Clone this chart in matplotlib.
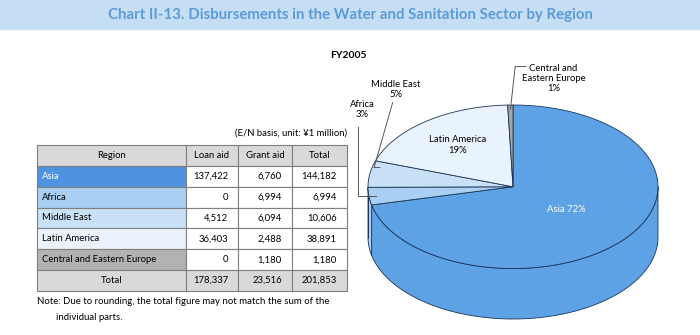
import numpy as np
import matplotlib
matplotlib.use("Agg")
import matplotlib.pyplot as plt
from matplotlib.patches import Rectangle, Polygon

plt.rcParams['font.family'] = ['Lato', 'DejaVu Sans']

# data
regions = ["Asia", "Africa", "Middle East", "Latin America", "Central and Eastern Europe"]
loan_aid = [137422, 0, 4512, 36403, 0]
grant_aid = [6760, 6994, 6094, 2488, 1180]
total_aid = [144182, 6994, 10606, 38891, 1180]
grand_total = [178337, 23516, 201853]
col_labels = ["Region", "Loan aid", "Grant aid", "Total"]
pie_labels = ["Asia 72%", "Africa\n3%", "Middle East\n5%", "Latin America\n19%",
              "Central and\nEastern Europe\n1%"]

title = "Chart II-13. Disbursements in the Water and Sanitation Sector by Region"

# colours
pie_colors = ["#5ea2e6", "#a9cff3", "#c8e1f7", "#e9f3fd", "#a6a6a6"]
cell_colors = ["#4d93e0", "#a9cff3", "#c8e1f7", "#eaf3fd", "#b2b2b2"]
head_color = "#d9d9d9"
edge_dark = "#1c3557"

W, H = 700, 335
fig = plt.figure(figsize=(W / 100, H / 100), dpi=100)

# overlay axes in pixel units for text/background
ax = fig.add_axes([0, 0, 1, 1])
ax.set_xlim(0, W)
ax.set_ylim(H, 0)
ax.axis('off')

ax.add_patch(Rectangle((0, 0), W, 29, color="#c6def4", zorder=0))
ax.text(350, 15, title, ha='center', va='center', fontsize=10.8,
        fontweight='bold', color="#5b9bd8")
ax.text(348, 56, "FY2005", ha='center', va='center', fontsize=7.5, fontweight='bold')
ax.text(347, 133, "(E/N basis, unit: ¥1 million)", ha='right', va='center', fontsize=6.8)
ax.text(37, 302, "Note: Due to rounding, the total figure may not match the sum of the",
        ha='left', va='center', fontsize=6.9)
ax.text(56, 318, "individual parts.", ha='left', va='center', fontsize=6.9)

# table
tax = fig.add_axes([37 / W, 1 - 291 / H, 310 / W, 146 / H])
tax.axis('off')
rows = [col_labels]
for r, l, g, t in zip(regions, loan_aid, grant_aid, total_aid):
    rows.append([r, f"{l:,}", f"{g:,}", f"{t:,}"])
rows.append(["Total"] + [f"{v:,}" for v in grand_total])
colours = [[head_color] * 4]
for c in cell_colors:
    colours.append([c, "white", "white", "white"])
colours.append([head_color] * 4)
widths = np.array([149, 52, 54, 55], dtype=float)
tbl = tax.table(cellText=rows, cellColours=colours, colWidths=list(widths / widths.sum()),
                cellLoc='right', bbox=[0, 0, 1, 1])
tbl.auto_set_font_size(False)
nrows = len(rows)
for (i, j), cell in tbl.get_celld().items():
    cell.set_edgecolor("#7f7f7f")
    cell.set_linewidth(0.8)
    txt = cell.get_text()
    txt.set_fontsize(6.8)
    if i == 0 or (i == nrows - 1 and j == 0):
        cell._loc = 'center'
        txt.set_horizontalalignment('center')
    elif j == 0:
        cell._loc = 'left'
        cell.PAD = 0.034
        txt.set_horizontalalignment('left')
    else:
        cell.PAD = 0.19
    if i == 1 and j == 0:
        txt.set_color("white")

# 3D pie
pax = fig.add_axes([368 / W, 1 - 319 / H, 290 / W, 214 / H])
depth = 50 / 81
pax.set_xlim(-1, 1)
pax.set_ylim(-1 - depth, 1)
pax.axis('off')

fracs = np.array(total_aid, dtype=float) / sum(total_aid)
starts = 90 - 360 * np.concatenate([[0], np.cumsum(fracs)[:-1]])
ends = starts - 360 * fracs


def arc(a0, a1, n=80):
    t = np.radians(np.linspace(a0, a1, n))
    return np.cos(t), np.sin(t)


# side walls (front half only)
for a_s, a_e, col in zip(starts, ends, pie_colors):
    for k in (-360, 0, 360):
        lo, hi = max(a_e, -180 + k), min(a_s, 0 + k)
        if hi - lo > 0.05:
            x, y = arc(lo, hi)
            px = np.concatenate([x, x[::-1]])
            py = np.concatenate([y, y[::-1] - depth])
            pax.add_patch(Polygon(np.column_stack([px, py]), closed=True, facecolor=col,
                                  edgecolor=edge_dark, linewidth=0.6, clip_on=False))

# top faces
for a_s, a_e, col in zip(starts, ends, pie_colors):
    x, y = arc(a_s, a_e)
    pts = np.column_stack([np.r_[0, x], np.r_[0, y]])
    pax.add_patch(Polygon(pts, closed=True, facecolor=col, edgecolor=edge_dark,
                          linewidth=0.6, clip_on=False))

mids = np.radians((starts + ends) / 2)

# labels inside
pax.text(0.37, -0.28, pie_labels[0], ha='center', va='center', fontsize=6.8, color="white")
pax.text(-0.38, 0.51, pie_labels[3], ha='center', va='center', fontsize=6.8,
         linespacing=1.25)

line_kw = dict(color="#555555", linewidth=0.7, clip_on=False)

# Africa
tx, ty = 0.95 * np.cos(mids[1]), 0.95 * np.sin(mids[1])
pax.text(-1.04, 0.94, pie_labels[1], ha='center', va='center', fontsize=6.8, linespacing=1.15)
pax.plot([-1.07, -1.07, tx], [0.73, ty, ty], **line_kw)

# Middle East
tx, ty = 0.95 * np.cos(mids[2]) + 0.02, 0.235
pax.text(-0.81, 1.19, pie_labels[2], ha='center', va='center', fontsize=6.8, linespacing=1.15)
pax.plot([-0.83, tx - 0.04, tx], [1.03, ty, ty], **line_kw)

# Central and Eastern Europe
tx, ty = 0.95 * np.cos(mids[4]), 0.95 * np.sin(mids[4])
pax.text(0.28, 1.32, pie_labels[4], ha='center', va='center', fontsize=6.8, linespacing=1.15)
pax.plot([0.09, 0.015, tx], [1.47, 1.47, ty], **line_kw)

fig.savefig("out.png", dpi=100)
